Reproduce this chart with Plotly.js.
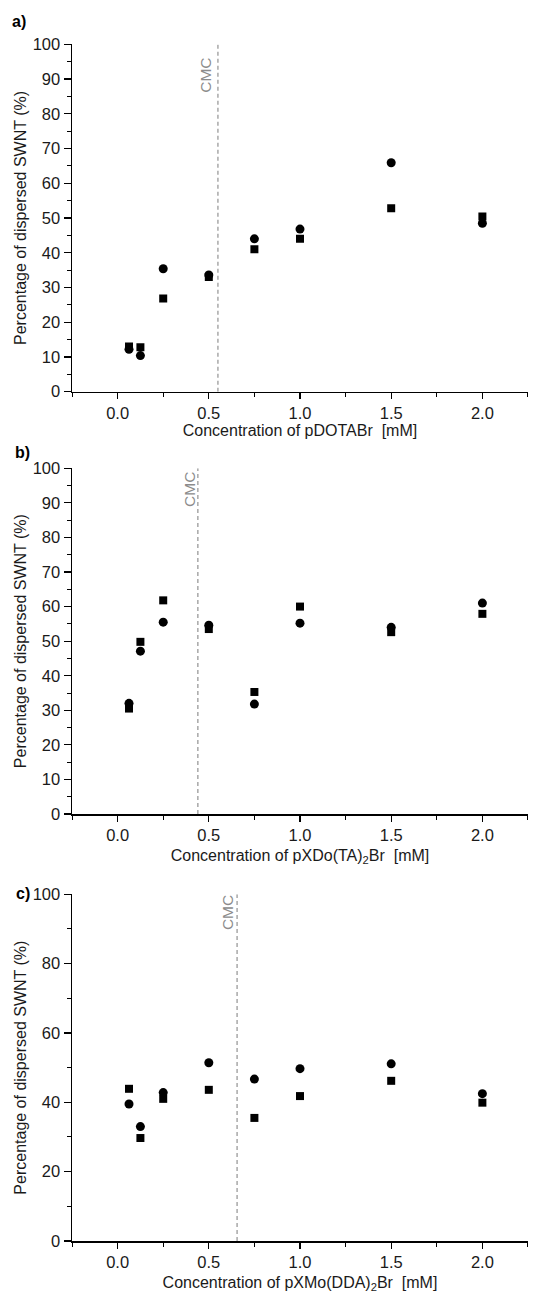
<!DOCTYPE html>
<html>
<head>
<meta charset="utf-8">
<script src="https://cdn.plot.ly/plotly-3.0.1.min.js"></script>
<style>html,body{margin:0;padding:0;background:#fff;}#chart{width:534px;height:1293px;}</style>
</head>
<body>
<div id="chart"></div>
<script>
// ---- data ----
const concentration = [0.0625, 0.125, 0.25, 0.5, 0.75, 1.0, 1.5, 2.0];
const circlesA = [12.2, 10.4, 35.4, 33.6, 44.0, 46.8, 65.9, 48.5];
const squaresA = [13.0, 12.8, 26.8, 33.0, 41.0, 44.0, 52.8, 50.4];
const circlesB = [32.0, 47.1, 55.5, 54.6, 31.8, 55.2, 54.0, 61.0];
const squaresB = [30.5, 49.8, 61.8, 53.5, 35.3, 60.0, 52.6, 57.9];
const circlesC = [39.5, 33.0, 42.8, 51.4, 46.7, 49.7, 51.1, 42.5];
const squaresC = [43.9, 29.7, 41.0, 43.6, 35.5, 41.8, 46.2, 39.9];
const cmcValues = [0.55, 0.44, 0.655];
const panelLabels = ['a)', 'b)', 'c)'];
const xTitles = [
  'Concentration of pDOTABr\u00a0 [mM]',
  'Concentration of pXDo(TA)<sub>2</sub>Br\u00a0 [mM]',
  'Concentration of pXMo(DDA)<sub>2</sub>Br\u00a0 [mM]'
];
const yTitle = 'Percentage of dispersed SWNT (%)';

// ---- layout helpers ----
const W = 534, H = 1293;
const M = {l: 72, r: 6, t: 44, b: 52};
const plotW = W - M.l - M.r, plotH = H - M.t - M.b;
function yDom(topPx, botPx) { return [1 - (botPx - M.t) / plotH, 1 - (topPx - M.t) / plotH]; }
function px2x(px) { return (px - M.l) / plotW; }
function py2y(py) { return 1 - (py - M.t) / plotH; }

const FONT = 'Liberation Sans, Arial, Helvetica, sans-serif';
const TXT = '#1a1a1a';

function xAxis(title, anchor, standoff) {
  return {
    anchor: anchor,
    range: [-0.2501, 2.2501],
    tick0: 0, dtick: 0.5, tickformat: '.1f',
    ticks: 'outside', ticklen: 6, tickwidth: 1.2, tickcolor: '#000',
    minor: {tick0: 0, dtick: 0.25, ticks: 'outside', ticklen: 4, tickwidth: 1, tickcolor: '#000', showgrid: false},
    showline: true, linecolor: '#000', linewidth: 1.5,
    showgrid: false, zeroline: false,
    tickfont: {family: FONT, size: 16.5, color: TXT},
    title: {text: title, font: {family: FONT, size: 16, color: TXT}, standoff: standoff},
    fixedrange: true
  };
}
function yAxis(domain, anchor, major, minor) {
  return {
    domain: domain, anchor: anchor,
    range: [-0.001, 100.001],
    tick0: 0, dtick: major,
    ticks: 'outside', ticklen: 7, tickwidth: 1.2, tickcolor: '#000',
    minor: {tick0: 0, dtick: minor, ticks: 'outside', ticklen: 4, tickwidth: 1, tickcolor: '#000', showgrid: false},
    showline: true, linecolor: '#000', linewidth: 1.5,
    showgrid: false, zeroline: false,
    tickfont: {family: FONT, size: 16.5, color: TXT},
    title: {text: yTitle, font: {family: FONT, size: 16, color: TXT}, standoff: 2},
    fixedrange: true
  };
}

const sets = [[circlesA, squaresA], [circlesB, squaresB], [circlesC, squaresC]];
const axIds = [['x', 'y'], ['x2', 'y2'], ['x3', 'y3']];
const traces = [];
sets.forEach((s, i) => {
  traces.push({x: concentration, y: s[1], xaxis: axIds[i][0], yaxis: axIds[i][1], type: 'scatter', mode: 'markers',
    marker: {symbol: 'square', size: 8, color: '#000'}, showlegend: false, hoverinfo: 'x+y'});
  traces.push({x: concentration, y: s[0], xaxis: axIds[i][0], yaxis: axIds[i][1], type: 'scatter', mode: 'markers',
    marker: {symbol: 'circle', size: 9, color: '#000'}, showlegend: false, hoverinfo: 'x+y'});
});

const shapes = cmcValues.map((v, i) => ({
  type: 'line', xref: axIds[i][0], yref: axIds[i][1], x0: v, x1: v, y0: 0, y1: 100,
  line: {color: '#9a9a9a', width: 1.3, dash: '4px,3px'}
}));

const cmcTextY = [91.2, 94.0, 94.6];
const cmcShift = [-12, -9, -10];
const annotations = cmcValues.map((v, i) => ({
  x: v, y: cmcTextY[i], xref: axIds[i][0], yref: axIds[i][1], text: 'CMC', textangle: -90,
  showarrow: false, xshift: cmcShift[i], font: {family: FONT, size: 15.5, color: '#8c8c8c'}
}));
const labelPos = [[19, 21.5], [22, 452], [22.5, 893.5]];
panelLabels.forEach((t, i) => {
  annotations.push({x: px2x(labelPos[i][0]), y: py2y(labelPos[i][1]), xref: 'paper', yref: 'paper', text: '<b>' + t + '</b>',
    showarrow: false, xanchor: 'center', yanchor: 'middle', font: {family: FONT, size: 16, color: '#000'}});
});

const layout = {
  width: W, height: H,
  margin: M,
  paper_bgcolor: '#fff', plot_bgcolor: '#fff',
  font: {family: FONT, color: TXT},
  showlegend: false,
  xaxis: xAxis(xTitles[0], 'y', 4),
  xaxis2: xAxis(xTitles[1], 'y2', 6),
  xaxis3: xAxis(xTitles[2], 'y3', 8),
  yaxis: yAxis(yDom(44.3, 391.7), 'x', 10, 5),
  yaxis2: yAxis(yDom(468.3, 814), 'x2', 10, 5),
  yaxis3: yAxis(yDom(894.3, 1241), 'x3', 20, 10),
  shapes: shapes,
  annotations: annotations
};

Plotly.newPlot('chart', traces, layout, {displayModeBar: false, staticPlot: true});
</script>
</body>
</html>
